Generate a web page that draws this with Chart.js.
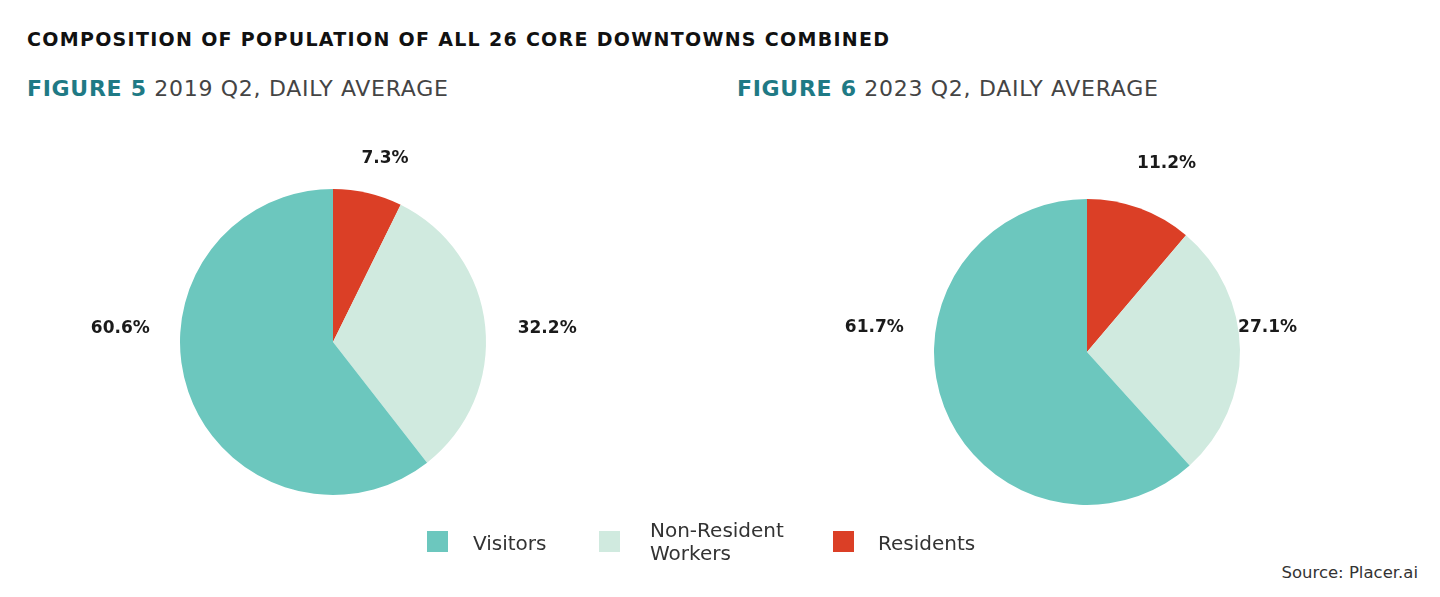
<!DOCTYPE html>
<html>
<head>
<meta charset="utf-8">
<script src="https://cdn.jsdelivr.net/npm/chart.js@4.4.1/dist/chart.umd.min.js"></script>
<style>
  html, body { margin:0; padding:0; background:#fff; }
  body { width:1440px; height:597px; position:relative; overflow:hidden; font-family:"DejaVu Sans", sans-serif; }
  .abs { position:absolute; white-space:nowrap; }
  #title { left:27px; top:28px; font-family:"DejaVu Sans"; font-weight:bold; font-size:19px; color:#111; letter-spacing:1.3px; }
  .fig { font-family:"DejaVu Sans"; font-size:22px; color:#444; top:76px; letter-spacing:0.7px; }
  .fig b { color:#1f7a85; font-weight:bold; }
  .legend { font-family:"DejaVu Sans"; font-size:20px; color:#333; }
  .sw { position:absolute; width:21px; height:21px; }
  #source { right:22px; top:563px; font-family:"DejaVu Sans"; font-size:16.5px; color:#333; }
  canvas { position:absolute; }
</style>
</head>
<body>
<div id="title" class="abs">COMPOSITION OF POPULATION OF ALL 26 CORE DOWNTOWNS COMBINED</div>
<div class="abs fig" style="left:27px;"><b>FIGURE 5</b> 2019 Q2, DAILY AVERAGE</div>
<div class="abs fig" style="left:737px;"><b>FIGURE 6</b> 2023 Q2, DAILY AVERAGE</div>

<div id="wrapL" style="position:absolute;left:53px;top:132px;width:560px;height:420px;"><canvas id="c1"></canvas></div>
<div id="wrapR" style="position:absolute;left:807px;top:142px;width:560px;height:420px;"><canvas id="c2"></canvas></div>

<div id="legend"></div>
<div id="source" class="abs">Source: Placer.ai</div>

<script>
// ---- data ----
const categories = ["Residents", "Non-Resident Workers", "Visitors"];
const values2019 = [7.3, 32.2, 60.6];
const values2023 = [11.2, 27.1, 61.7];
const labels2019 = ["7.3%", "32.2%", "60.6%"];
const labels2023 = ["11.2%", "27.1%", "61.7%"];
const colors = ["#db3f26", "#d0eadf", "#6cc7be"];
const legendOrder = ["Visitors", "Non-Resident Workers", "Residents"];

// label placement, in units of the pie radius relative to pie centre
const offsets2019 = [[0.34, -1.20], [1.40, -0.09], [-1.39, -0.09]];
const offsets2023 = [[0.52, -1.23], [1.18, -0.16], [-1.39, -0.16]];

const labelPlugin = {
  id: 'pieLabels',
  afterDatasetsDraw(chart, args, opts) {
    const ctx = chart.ctx;
    const meta = chart.getDatasetMeta(0);
    ctx.save();
    ctx.font = 'bold 17px "DejaVu Sans"';
    ctx.fillStyle = '#1a1a1a';
    ctx.textAlign = 'center';
    ctx.textBaseline = 'middle';
    meta.data.forEach((arc, i) => {
      const r = arc.outerRadius;
      const o = opts.offsets[i];
      ctx.fillText(opts.texts[i], arc.x + o[0] * r, arc.y + o[1] * r);
    });
    ctx.restore();
  }
};

function makePie(id, values, texts, offs) {
  return new Chart(document.getElementById(id), {
    type: 'pie',
    data: {
      labels: categories,
      datasets: [{ data: values, backgroundColor: colors, borderWidth: 0 }]
    },
    options: {
      responsive: true,
      maintainAspectRatio: false,
      animation: false,
      layout: { padding: { top: 57, bottom: 57, left: 127, right: 127 } },
      plugins: {
        legend: { display: false },
        tooltip: { enabled: false },
        pieLabels: { texts: texts, offsets: offs }
      }
    },
    plugins: [labelPlugin]
  });
}
makePie('c1', values2019, labels2019, offsets2019);
makePie('c2', values2023, labels2023, offsets2023);

// legend (HTML)
const leg = document.getElementById('legend');
const legPos = [{sx:427, tx:473}, {sx:599, tx:650}, {sx:833, tx:878}];
legendOrder.forEach((name, i) => {
  const ci = categories.indexOf(name);
  const sw = document.createElement('div');
  sw.className = 'sw';
  sw.style.left = legPos[i].sx + 'px';
  sw.style.top = '531px';
  sw.style.background = colors[ci];
  leg.appendChild(sw);
  const t = document.createElement('div');
  t.className = 'abs legend';
  t.style.left = legPos[i].tx + 'px';
  t.style.lineHeight = '23px';
  if (name === "Non-Resident Workers") {
    t.style.top = '519px';
    t.innerHTML = 'Non-Resident<br>Workers';
  } else {
    t.style.top = '532px';
    t.textContent = name;
  }
  leg.appendChild(t);
});
</script>
</body>
</html>
